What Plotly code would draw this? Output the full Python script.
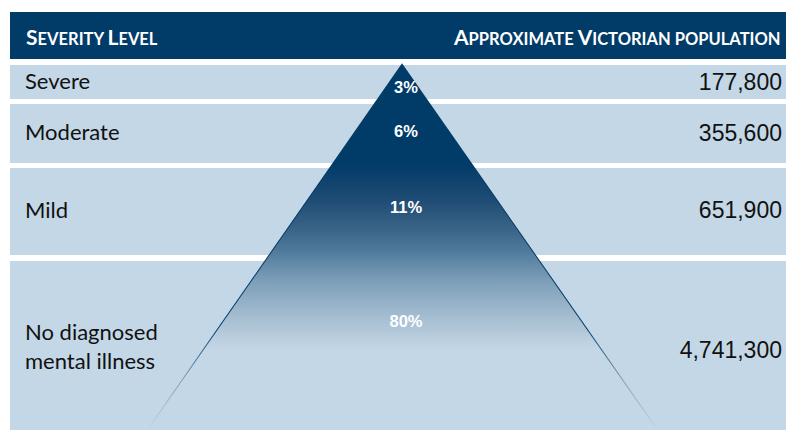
import plotly.graph_objects as go

# ---- data ----
categories = ["Severe", "Moderate", "Mild", "No diagnosed<br>mental illness"]
percent_share = [3, 6, 11, 80]
population = [177800, 355600, 651900, 4741300]
header_left = "Severity Level"
header_right = "Approximate Victorian population"

# ---- layout constants (pixel space) ----
W, H = 786, 430
NAVY = "#013B68"
BAND = "#C4D7E6"
row_top = [65, 104, 168, 261]
row_bot = [99, 163, 255, 430]
label_y = [83, 134, 212, 349]
num_y = [84, 135, 212, 352]
pct_y = [89, 133, 209, 323]
apex_x, apex_y = 402, 65
base_l, base_r, base_y = 148, 657, 430


def small_caps(text, big, small):
    out = []
    for ch in text:
        if ch.isupper():
            out.append(f"<span style='font-size:{big}px'>{ch}</span>")
        elif ch == " ":
            out.append(" ")
        else:
            out.append(f"<span style='font-size:{small}px'>{ch.upper()}</span>")
    return "".join(out)


fig = go.Figure()

shapes = [dict(type="rect", x0=10, x1=W, y0=12, y1=59, fillcolor=NAVY,
               line=dict(width=0), layer="below")]
for t, b in zip(row_top, row_bot):
    shapes.append(dict(type="rect", x0=10, x1=W, y0=t, y1=b, fillcolor=BAND,
                       line=dict(width=0), layer="below"))

# edge triangle (slightly larger) to imitate fading outline
dx, dy = 1.25, 1.8
fig.add_trace(go.Scatter(
    x=[base_l - dx, apex_x, base_r + dx, base_l - dx],
    y=[base_y, apex_y - dy, base_y, base_y],
    mode="lines", fill="toself", line=dict(width=0),
    fillgradient=dict(type="vertical", start=apex_y, stop=base_y,
                      colorscale=[[0, NAVY], [0.72, NAVY], [0.86, "#7F9FBA"], [1, BAND]]),
    hoverinfo="skip", showlegend=False))

# main pyramid with vertical gradient
fig.add_trace(go.Scatter(
    x=[base_l, apex_x, base_r, base_l],
    y=[base_y, apex_y, base_y, base_y],
    mode="lines", fill="toself", line=dict(width=0),
    fillgradient=dict(type="vertical", start=apex_y, stop=base_y,
                      colorscale=[[0, NAVY], [0.27, NAVY], [0.37, "#1F4C74"],
                                  [0.45, "#3A6487"], [0.51, "#4F7A9C"],
                                  [0.59, "#7C9EB8"], [0.70, "#A8C0D3"],
                                  [0.78, BAND], [1, BAND]]),
    hoverinfo="skip", showlegend=False))

# row labels
fig.add_trace(go.Scatter(
    x=[25] * len(categories), y=label_y, text=categories, mode="text",
    textposition="middle right",
    textfont=dict(family="Lato, Open Sans, sans-serif", size=22, color="#111111"),
    hoverinfo="skip", showlegend=False))

# percents
fig.add_trace(go.Scatter(
    x=[406] * len(percent_share), y=pct_y, text=[f"{p}%" for p in percent_share],
    mode="text", textposition="middle center",
    textfont=dict(family="Liberation Sans, Arial, sans-serif", size=16.5, color="white",
                  weight="bold"),
    hoverinfo="skip", showlegend=False))

# populations
fig.add_trace(go.Scatter(
    x=[782] * len(population), y=num_y, text=[f"{v:,}" for v in population],
    mode="text", textposition="middle left",
    textfont=dict(family="Liberation Sans, Arial, sans-serif", size=23, color="#111111"),
    hoverinfo="skip", showlegend=False))

annotations = [
    dict(x=24, y=36, xref="x", yref="y", xanchor="left", yanchor="middle",
         text="<b>" + small_caps(header_left, 21, 16.5) + "</b>", showarrow=False,
         font=dict(family="Lato, sans-serif", size=16.5, color="white")),
    dict(x=451, y=36, xref="x", yref="y", xanchor="left", yanchor="middle",
         text="<b>" + small_caps(header_right, 21, 16.5) + "</b>", showarrow=False,
         font=dict(family="Lato, sans-serif", size=16.5, color="white")),
]

fig.update_layout(
    width=W, height=H, margin=dict(l=0, r=0, t=0, b=0),
    paper_bgcolor="white", plot_bgcolor="white",
    xaxis=dict(range=[0, W], visible=False, fixedrange=True),
    yaxis=dict(range=[H, 0], visible=False, fixedrange=True),
    shapes=shapes, annotations=annotations, showlegend=False,
)

fig.write_html("out.html")
